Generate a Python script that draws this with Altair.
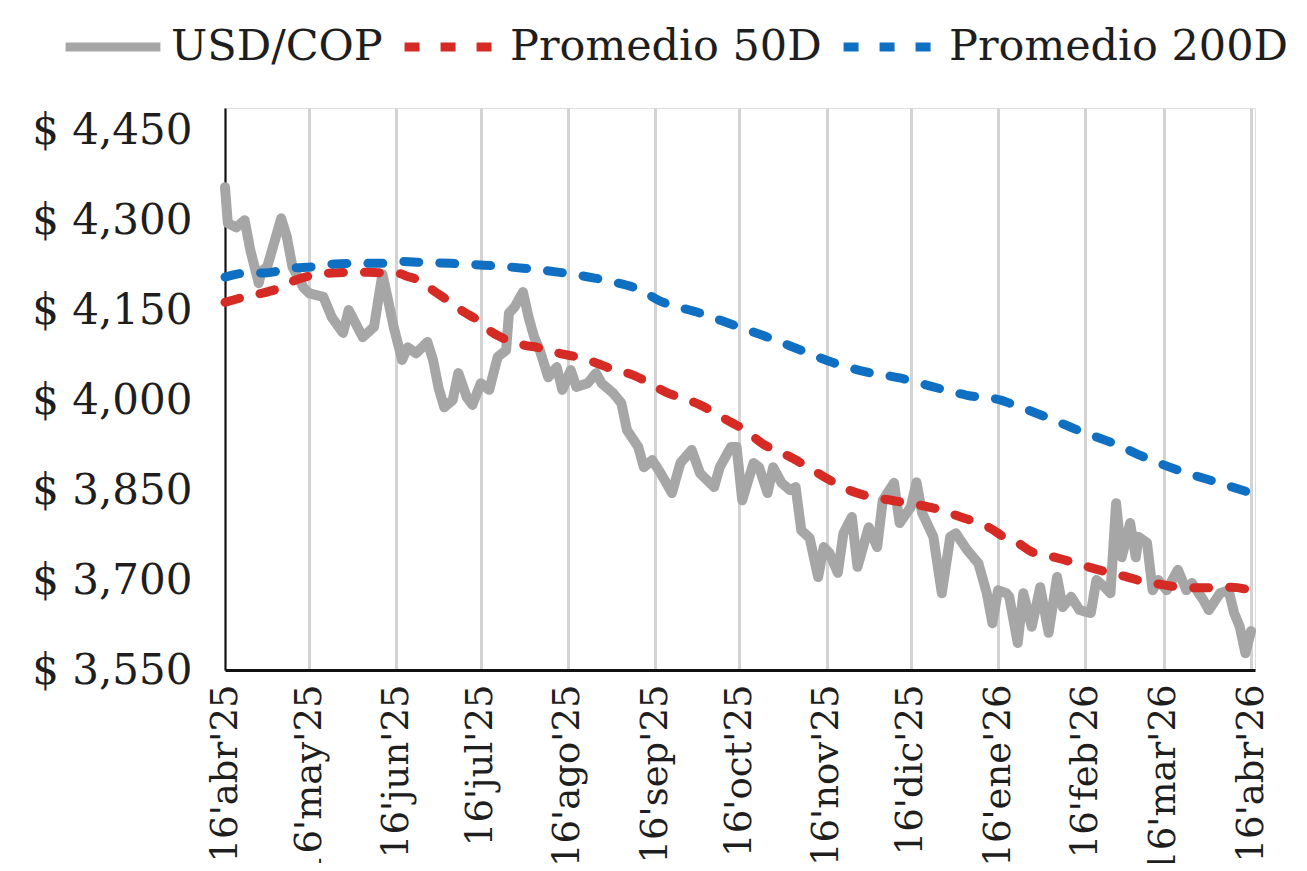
import altair as alt
import pandas as pd

START = pd.Timestamp("2025-04-16")

series_names = ["USD/COP", "Promedio 50D", "Promedio 200D"]
series_colors = ["#a6a6a6", "#d62a24", "#0f6fc3"]

# USD/COP daily close (days since 16 Apr 2025)
usd_days = [0, 1, 4, 7, 9, 12, 13, 15, 20, 22, 24, 28, 30, 35, 38, 42, 44, 49, 53, 56,
            58, 60, 63, 65, 68, 72, 74, 76, 78, 81, 83, 86, 88, 91, 94, 97, 100, 101, 103, 106,
            108, 110, 112, 115, 118, 120, 123, 125, 129, 132, 134, 138, 141, 143, 147, 149, 152, 155, 159, 162,
            166, 169, 174, 176, 180, 182, 184, 188, 190, 193, 195, 198, 201, 203, 205, 208, 211, 213, 215, 218,
            220, 223, 225, 229, 232, 234, 238, 240, 244, 246, 248, 252, 255, 258, 260, 264, 268, 271, 273, 275,
            278, 279, 282, 284, 287, 290, 293, 296, 298, 301, 304, 308, 310, 313, 315, 317, 319, 322, 324, 325,
            328, 330, 332, 335, 339, 342, 344, 348, 350, 354, 357, 359, 361, 363, 365]
usd_values = [4355, 4295, 4288, 4300, 4250, 4195, 4215, 4222, 4303, 4272, 4222, 4187, 4178, 4172, 4138, 4112, 4150, 4105, 4122, 4210,
              4167, 4122, 4067, 4088, 4078, 4097, 4067, 4020, 3988, 4000, 4045, 4005, 3992, 4028, 4017, 4072, 4083, 4145, 4155, 4180,
              4138, 4105, 4083, 4038, 4055, 4017, 4050, 4022, 4028, 4045, 4028, 4012, 3995, 3950, 3922, 3888, 3900, 3878, 3845, 3895,
              3917, 3878, 3855, 3888, 3922, 3922, 3833, 3895, 3888, 3845, 3888, 3862, 3850, 3855, 3783, 3770, 3705, 3755, 3745, 3712,
              3778, 3805, 3722, 3788, 3755, 3833, 3862, 3795, 3822, 3863, 3812, 3772, 3678, 3772, 3778, 3750, 3728, 3678, 3628, 3683,
              3678, 3672, 3595, 3678, 3622, 3688, 3612, 3705, 3655, 3672, 3650, 3645, 3700, 3688, 3678, 3828, 3738, 3795, 3738, 3772,
              3762, 3683, 3700, 3683, 3717, 3683, 3695, 3667, 3650, 3678, 3683, 3645, 3622, 3578, 3615]

# 50-day moving average
ma50_days = [0, 7, 13, 20, 25, 31, 38, 44, 51, 57, 62, 65, 69, 74, 79, 85, 90, 95, 99, 106,
             112, 119, 125, 132, 137, 145, 157, 169, 180, 184, 191, 202, 211, 215, 222, 227, 237, 247, 252, 260,
             265, 272, 277, 282, 287, 296, 307, 314, 321, 327, 334, 342, 349, 358, 365]
ma50_values = [4163, 4172, 4178, 4188, 4200, 4208, 4212, 4213, 4213, 4212, 4211, 4206, 4200, 4183, 4167, 4147, 4133, 4113, 4103, 4092,
               4087, 4078, 4072, 4062, 4053, 4042, 4013, 3992, 3963, 3953, 3928, 3903, 3878, 3867, 3850, 3842, 3833, 3825, 3820, 3808,
               3800, 3787, 3772, 3762, 3747, 3737, 3722, 3713, 3705, 3697, 3692, 3687, 3687, 3688, 3683]

# 200-day moving average
ma200_days = [0, 8, 14, 24, 31, 39, 47, 56, 63, 69, 80, 92, 106, 119, 132, 138, 148, 154, 169, 181,
              193, 205, 216, 228, 240, 252, 264, 276, 279, 292, 305, 315, 328, 341, 353, 365]
ma200_values = [4205, 4212, 4212, 4220, 4222, 4227, 4228, 4228, 4231, 4230, 4228, 4225, 4220, 4213, 4203, 4197, 4183, 4167, 4145, 4125,
                4105, 4083, 4063, 4047, 4037, 4022, 4008, 4000, 3995, 3972, 3947, 3930, 3903, 3880, 3863, 3845]

y_ticks = [3550, 3700, 3850, 4000, 4150, 4300, 4450]
month_labels = ["ene", "feb", "mar", "abr", "may", "jun", "jul", "ago", "sep", "oct", "nov", "dic"]


def frame(days, vals, name):
    assert len(days) == len(vals)
    return pd.DataFrame({
        "fecha": [(START + pd.Timedelta(days=d)).strftime("%Y-%m-%dT%H:%M:%S") for d in days],
        "valor": vals,
        "serie": name,
    })


df = pd.concat([
    frame(usd_days, usd_values, series_names[0]),
    frame(ma50_days, ma50_values, series_names[1]),
    frame(ma200_days, ma200_values, series_names[2]),
], ignore_index=True)

FONT = "DejaVu Serif"
TXT = "#1e1e1e"

tick_dates = []
for i in range(13):
    y = 2025 + (3 + i) // 12
    m = (3 + i) % 12 + 1
    tick_dates.append(alt.DateTime(year=y, month=m, date=16))

months_js = "[" + ",".join('"%s"' % m for m in month_labels) + "]"
x_label_expr = "\"16'\" + " + months_js + "[month(datum.value)] + \"'\" + timeFormat(datum.value, '%y')"

x_axis = alt.Axis(
    values=tick_dates, labelExpr=x_label_expr, labelAngle=270, labelAlign="right",
    labelBaseline="middle", labelFont=FONT, labelFontSize=37, labelColor=TXT,
    labelPadding=14, labelFlush=False, labelOverlap=False, labelBound=False, labelLimit=500,
    grid=True, gridColor="#d3d3d3", gridWidth=3, ticks=False,
    domain=True, domainColor="#111111", domainWidth=3, title=None,
)
y_axis = alt.Axis(
    values=y_ticks, labelExpr="'$ ' + format(datum.value, ',')",
    labelFont=FONT, labelFontSize=42, labelColor=TXT, labelPadding=33, labelLimit=500,
    labelFlush=False, labelOverlap=False, grid=False, ticks=False,
    domain=True, domainColor="#111111", domainWidth=2, title=None,
)

x_scale = alt.Scale(domain=[alt.DateTime(year=2025, month=4, date=16),
                            alt.DateTime(year=2026, month=4, date=17, hours=10)])
y_scale = alt.Scale(domain=[3550, 4487], nice=False, zero=False)

legend = alt.Legend(
    orient="none", legendX=-164, legendY=-113, direction="horizontal", title=None,
    labelFont=FONT, labelFontSize=43, labelColor=TXT, labelLimit=600,
    symbolType="stroke", symbolSize=9000, symbolStrokeWidth=9,
    labelOffset=6, columnPadding=3,
)

color_scale = alt.Scale(domain=series_names, range=series_colors)
dash_scale = alt.Scale(domain=series_names, range=[[1, 0], [15, 21], [15, 21]])

base = alt.Chart(df).encode(
    x=alt.X("fecha:T", scale=x_scale, axis=x_axis),
    y=alt.Y("valor:Q", scale=y_scale, axis=y_axis),
    color=alt.Color("serie:N", scale=color_scale, legend=legend),
    strokeDash=alt.StrokeDash("serie:N", scale=dash_scale, legend=legend),
)

layers = []
for i, s in enumerate(series_names):
    layer = base.transform_filter(alt.datum.serie == s)
    if i == 0:
        layer = layer.mark_line(strokeWidth=10, strokeJoin="round", strokeCap="round")
    else:
        layer = layer.mark_line(strokeWidth=9, strokeCap="round", interpolate="monotone")
    layers.append(layer)

chart = alt.layer(*layers).properties(
    width=1030, height=562,
    autosize=alt.AutoSizeParams(type="none"),
    padding={"left": 217, "top": 100, "right": 42, "bottom": 193},
).configure_view(stroke=None).configure(background="white")

chart.save("out.html", embed_options={"renderer": "svg", "actions": False})
